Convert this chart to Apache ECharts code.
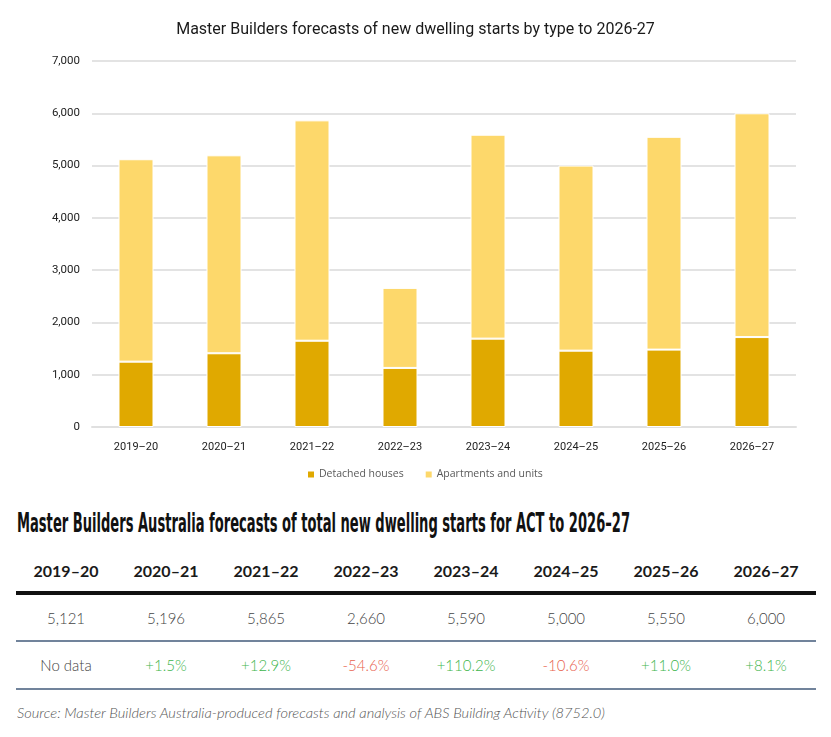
<!DOCTYPE html>
<html>
<head>
<meta charset="utf-8">
<script src="https://cdn.jsdelivr.net/npm/echarts@6/dist/echarts.min.js"></script>
<style>
  html, body { margin: 0; padding: 0; background: #fff; }
  #wrap { position: relative; width: 831px; height: 737px; overflow: hidden; }
  #chart { position: absolute; left: 0; top: 0; width: 831px; height: 490px; }
  .abs { position: absolute; white-space: nowrap; }
  #ttl { left: 17px; top: 507px; font-family: "Liberation Sans Narrow", "DejaVu Sans Condensed", sans-serif; font-weight: bold; font-size: 27px; color: #111; transform-origin: 0 0; }
  .cell { position: absolute; width: 100px; text-align: center; font-family: Lato, sans-serif; }
  .hdr { font-weight: bold; font-size: 16px; color: #1a1a1a; }
  .val { font-weight: 300; font-size: 15px; color: #444; }
  .line { position: absolute; left: 16px; width: 800px; }
  #src { left: 17px; top: 704px; font-family: Lato, sans-serif; font-style: italic; font-weight: 300; font-size: 14px; color: #555; transform-origin: 0 0; }
</style>
</head>
<body>
<div id="wrap">
  <div id="chart"></div>
  <div id="ttl" class="abs">Master Builders Australia forecasts of total new dwelling starts for ACT to 2026–27</div>
  <div id="tbl"></div>
  <div id="src" class="abs">Source: Master Builders Australia-produced forecasts and analysis of ABS Building Activity (8752.0)</div>
</div>
<script>
// ---- Data ----
const categories = ["2019–20", "2020–21", "2021–22", "2022–23", "2023–24", "2024–25", "2025–26", "2026–27"];
const detachedHouses = [1250, 1410, 1650, 1130, 1690, 1460, 1480, 1720];
const apartmentsUnits = [3871, 3786, 4215, 1530, 3900, 3540, 4070, 4280];
const totals = ["5,121", "5,196", "5,865", "2,660", "5,590", "5,000", "5,550", "6,000"];
const changes = ["No data", "+1.5%", "+12.9%", "-54.6%", "+110.2%", "-10.6%", "+11.0%", "+8.1%"];
const yTicks = [0, 1000, 2000, 3000, 4000, 5000, 6000, 7000];

// ---- Chart ----
const chart = echarts.init(document.getElementById('chart'), null, { renderer: 'canvas' });
chart.setOption({
  animation: false,
  title: {
    text: 'Master Builders forecasts of new dwelling starts by type to 2026-27',
    left: 'center', top: 17,
    textStyle: { fontFamily: 'Roboto, sans-serif', fontSize: 16, fontWeight: 'normal', color: '#1a1a1a' }
  },
  legend: {
    data: ['Detached houses', 'Apartments and units'],
    top: 464, left: 301,
    icon: 'rect', itemWidth: 8, itemHeight: 8, itemGap: 20,
    textStyle: { fontFamily: '"Open Sans", sans-serif', fontSize: 10.5, color: '#595959', padding: [0, 0, 0, -1] }
  },
  grid: { left: 92, right: 35, top: 61, bottom: 63, containLabel: false },
  xAxis: {
    type: 'category', data: categories,
    axisTick: { show: false },
    axisLine: { lineStyle: { color: '#e0e0e0', width: 2 } },
    axisLabel: { color: '#222', fontSize: 11, fontFamily: 'Roboto, sans-serif', margin: 15 }
  },
  yAxis: {
    type: 'value', min: yTicks[0], max: yTicks[yTicks.length - 1], interval: 1000,
    axisLine: { show: false }, axisTick: { show: false },
    splitLine: { lineStyle: { color: '#e3e3e3', width: 2 } },
    axisLabel: {
      color: '#222', fontSize: 11.5, fontFamily: 'Roboto, sans-serif', margin: 12,
      formatter: v => v.toLocaleString('en-US')
    }
  },
  series: [
    { name: 'Detached houses', type: 'bar', stack: 't', data: detachedHouses, barWidth: 35,
      itemStyle: { color: '#E0A900', borderColor: '#fff', borderWidth: 1 } },
    { name: 'Apartments and units', type: 'bar', stack: 't', data: apartmentsUnits, barWidth: 35,
      itemStyle: { color: '#FDD86B', borderColor: '#fff', borderWidth: 1 } }
  ]
});

// ---- Table ----
const tbl = document.getElementById('tbl');
function addCell(text, top, cls, i, color) {
  const d = document.createElement('div');
  d.className = 'cell ' + cls;
  d.style.left = (16 + i * 100) + 'px';
  d.style.top = top + 'px';
  d.textContent = text;
  if (color) d.style.color = color;
  tbl.appendChild(d);
}
function addLine(top, h, color) {
  const d = document.createElement('div');
  d.className = 'line';
  d.style.top = top + 'px';
  d.style.height = h + 'px';
  d.style.background = color;
  tbl.appendChild(d);
}
categories.forEach((c, i) => addCell(c, 561, 'hdr', i));
addLine(591, 4, '#111');
totals.forEach((t, i) => addCell(t, 609, 'val', i));
addLine(640, 2, '#71839b');
changes.forEach((t, i) => {
  const col = t.startsWith('+') ? '#3db54c' : (t.startsWith('-') ? '#e8614d' : null);
  addCell(t, 656, 'val', i, col);
});
addLine(688, 2, '#71839b');

// fit texts to their widths in the reference
function fit(id, target) {
  const el = document.getElementById(id);
  const w = el.getBoundingClientRect().width;
  el.style.transform = 'scaleX(' + (target / w) + ')';
}
fit('ttl', 613);
fit('src', 588);
</script>
</body>
</html>
